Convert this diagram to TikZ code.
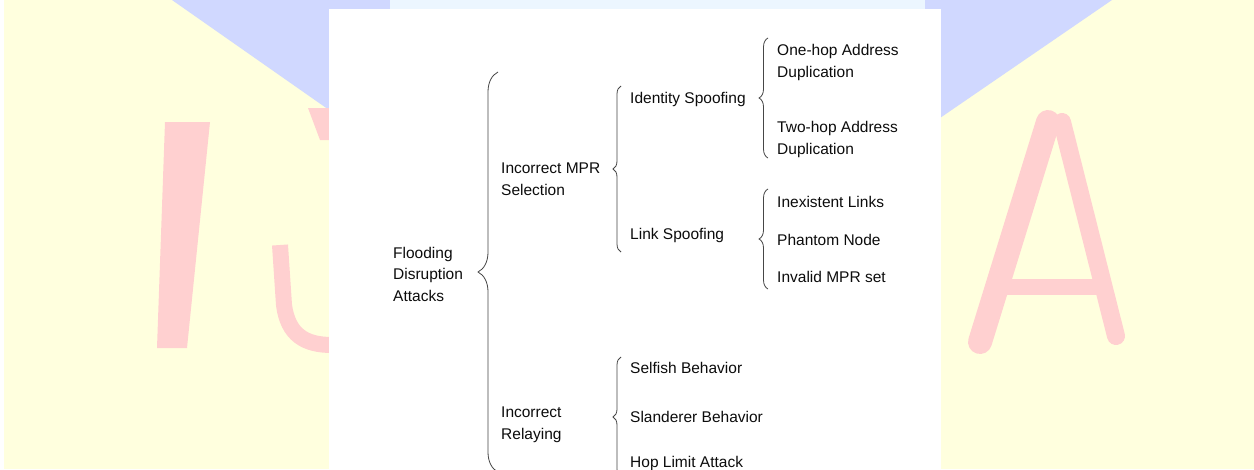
\documentclass[tikz,border=0pt]{standalone}
\usepackage{fontspec}
\setmainfont{Liberation Sans}
\usetikzlibrary{decorations.pathreplacing}
\definecolor{bgyellow}{RGB}{255,255,222}
\definecolor{wmblue}{RGB}{208,216,255}
\definecolor{wmlight}{RGB}{236,246,255}
\definecolor{wmpink}{RGB}{255,208,208}
\definecolor{txtgray}{RGB}{12,12,12}
\definecolor{brcgray}{RGB}{70,70,70}
\tikzset{
	lbl/.style={anchor=base west, inner sep=0pt, align=left, text=txtgray,
		font=\fontsize{15.5}{21.5}\selectfont},
	curly/.style={draw=brcgray, line width=0.8pt, decorate,
		decoration={brace, amplitude=#1}},
}

\begin{document}
\begin{tikzpicture}[x=1pt, y=-1pt]
			%%%%% BACKGROUND %%%%%
			\useasboundingbox (0, 0) rectangle (1254, 469);
			\fill[bgyellow] (4, 0) rectangle (1254, 469);
			\fill[wmblue] (172, 0) -- (332, 112) -- (940, 118) -- (1112, 0) -- cycle;
			\fill[wmlight] (390, 0) rectangle (925, 9);
			
			% watermark letters
			\fill[wmpink] (165, 122) -- (210, 122) -- (187, 348) -- (157, 348) -- cycle;
			\draw[wmpink, line width=16pt] (280, 245) -- (284, 305) .. controls (288, 335) and (305, 345) .. (332, 345);
			\fill[wmpink] (308, 108) -- (332, 108) -- (332, 140) -- (320, 140) -- cycle;
			\draw[wmpink, line width=24pt, line cap=round] (1048, 122) -- (980, 342);
			\draw[wmpink, line width=18pt, line cap=round] (1062, 122) -- (1116, 336);
			\draw[wmpink, line width=16pt] (1000, 287) -- (1104, 287);
			
			\fill[white] (329, 9) rectangle (941, 469);
			
			%%%%% START %%%%%
			% multi-line labels sit on the baseline of their last line
			\node[lbl] (flood) at (393, 301) {Flooding\\Disruption\\Attacks};
			
			\node[lbl] (mpr) at (501, 195) {Incorrect MPR\\Selection};
			\node[lbl] (relay) at (501, 439) {Incorrect\\Relaying};
			
			\node[lbl] (ident) at (630, 103) {Identity Spoofing};
			\node[lbl] (link) at (630, 239) {Link Spoofing};
			
			\node[lbl] (onehop) at (777, 77) {One-hop Address\\Duplication};
			\node[lbl] (twohop) at (777, 154) {Two-hop Address\\Duplication};
			
			\node[lbl] (inex) at (777, 207) {Inexistent Links};
			\node[lbl] (phantom) at (777, 245) {Phantom Node};
			\node[lbl] (invmpr) at (777, 282) {Invalid MPR set};
			
			\node[lbl] (selfish) at (630, 373) {Selfish Behavior};
			\node[lbl] (slander) at (630, 422) {Slanderer Behavior};
			\node[lbl] (hoplim) at (630, 467) {Hop Limit Attack};
			
			% braces
			\draw[curly=20] (498, 472) -- (498, 72);
			\draw[curly=8] (621, 252) -- (621, 86);
			\draw[curly=9] (768, 158) -- (768, 38);
			\draw[curly=9] (768, 289) -- (768, 189);
			\draw[curly=8] (621, 477) -- (621, 357);
			%%%%% END %%%%%
\end{tikzpicture}
\end{document}
